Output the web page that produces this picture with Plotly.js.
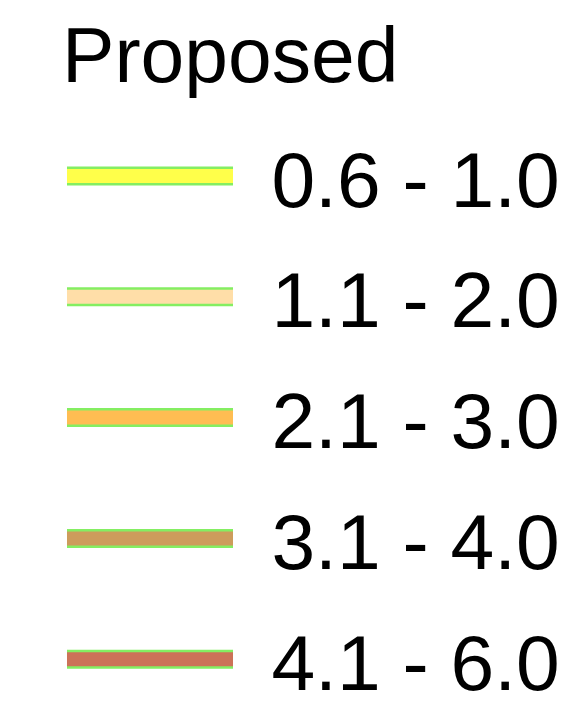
<!DOCTYPE html>
<html>
<head>
<meta charset="utf-8">
<script src="https://cdn.plot.ly/plotly-3.0.1.min.js"></script>
<style>
  html, body { margin: 0; padding: 0; background: #ffffff; overflow: hidden; }
  #wrap { width: 583px; height: 713px; overflow: hidden; }
  #chart { width: 292px; height: 420px; transform: scale(2); transform-origin: 0 0; }
</style>
</head>
<body>
<div id="wrap"><div id="chart"></div></div>
<script>
// Legend content
var legendTitle = "Proposed";
var classLabels = ["0.6 - 1.0", "1.1 - 2.0", "2.1 - 3.0", "3.1 - 4.0", "4.1 - 6.0"];
var classColors = ["#FFFF4A", "#FFDEA8", "#FFBD52", "#CD9C5C", "#CC7258"];
var outlineColor = "#84EE62";

var PAD = "\u00a0\u200a";
var FONT = "Liberation Sans, Arial, sans-serif";
var FS = 39.3;

var traces = [];
classLabels.forEach(function (lab, i) {
  // outline (green) entry in first legend
  traces.push({
    type: "scatter", mode: "lines", x: [null], y: [null],
    name: PAD + lab, legend: "legend", legendgroup: "g" + i,
    line: { color: outlineColor, width: 9.5 }, hoverinfo: "skip"
  });
});
classLabels.forEach(function (lab, i) {
  // fill colour entry in overlaid second legend
  traces.push({
    type: "scatter", mode: "lines", x: [null], y: [null],
    name: PAD + lab, legend: "legend2", legendgroup: "h" + i,
    line: { color: classColors[i], width: 7 }, hoverinfo: "skip"
  });
});

var legendBase = {
  x: 0.0976, y: 0.8667, xanchor: "left", yanchor: "top",
  bgcolor: "rgba(0,0,0,0)", borderwidth: 0,
  itemwidth: 83, tracegroupgap: 6.3,
  itemclick: false, itemdoubleclick: false
};

var layout = {
  width: 292, height: 420,
  margin: { l: 0, r: 0, t: 0, b: 0 },
  paper_bgcolor: "#ffffff", plot_bgcolor: "#ffffff",
  showlegend: true,
  xaxis: { visible: false }, yaxis: { visible: false },
  legend: Object.assign({}, legendBase, {
    font: { family: FONT, size: FS, color: "#000000" }
  }),
  legend2: Object.assign({}, legendBase, {
    font: { family: FONT, size: FS, color: "rgba(0,0,0,0)" }
  }),
  annotations: [{
    text: legendTitle, showarrow: false,
    xref: "paper", yref: "paper", x: 0.101, y: 0.9367,
    xanchor: "left", yanchor: "middle",
    font: { family: FONT, size: FS, color: "#000000" }
  }]
};

Plotly.newPlot("chart", traces, layout, { staticPlot: true, displayModeBar: false });
</script>
</body>
</html>
